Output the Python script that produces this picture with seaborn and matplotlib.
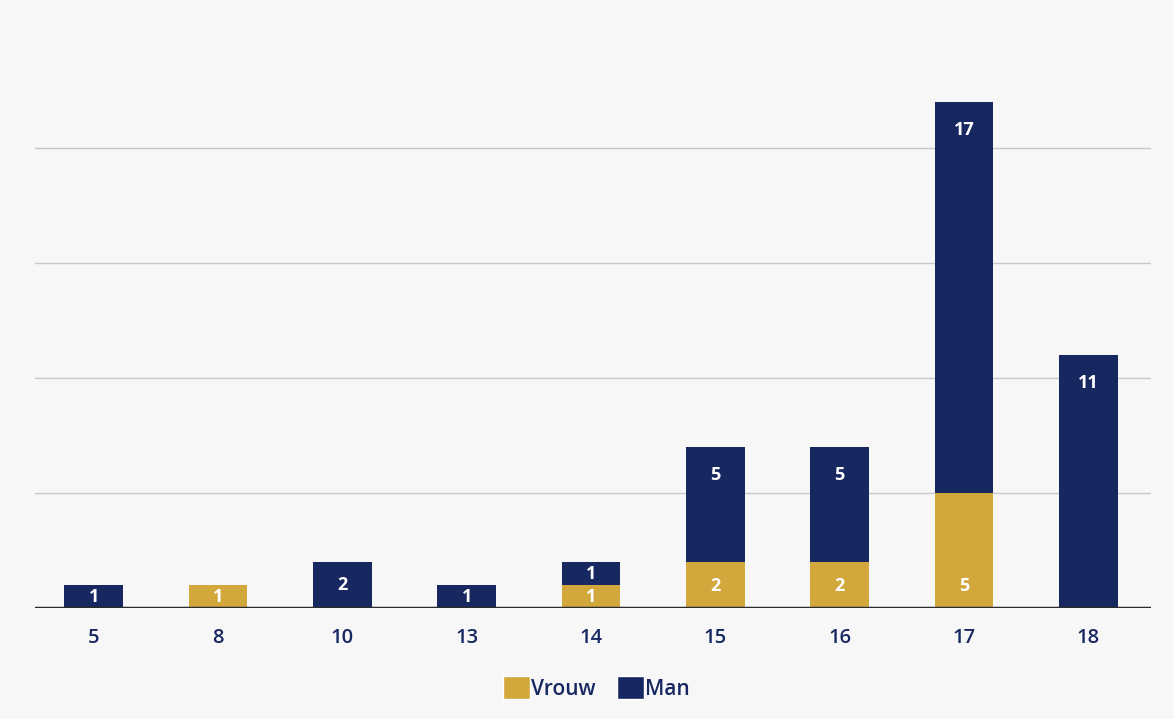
import seaborn as sns
import matplotlib.pyplot as plt
from matplotlib.patches import Patch

# leeftijd (categories) and counts per gender
ages = ['5', '8', '10', '13', '14', '15', '16', '17', '18']
vrouw = [0, 1, 0, 0, 1, 2, 2, 5, 0]
man = [1, 0, 2, 1, 1, 5, 5, 17, 11]
totals = [v + m for v, m in zip(vrouw, man)]

gold = '#D2A73C'
navy = '#172861'

sns.set_theme(style='white')
plt.rcParams['font.family'] = ['Open Sans', 'DejaVu Sans']

fig = plt.figure(figsize=(11.74, 7.19), dpi=100, facecolor='#f7f7f8')
ax = fig.add_axes([0.030, 0.154, 0.950, 0.800])
ax.set_facecolor('#f7f7f8')

# stack by drawing totals first, then the bottom segment over it
sns.barplot(x=ages, y=totals, color=navy, width=0.47, saturation=1, linewidth=0, ax=ax, zorder=3)
sns.barplot(x=ages, y=vrouw, color=gold, width=0.47, saturation=1, linewidth=0, ax=ax, zorder=4)

for i, (v, m) in enumerate(zip(vrouw, man)):
    if v > 0:
        ax.text(i, min(0.95, v / 2), str(v), ha='center', va='center',
                color='white', fontsize=13, fontweight='bold', zorder=5)
    if m > 0:
        top = v + m
        y = max(top - 1.2, v + m / 2)
        ax.text(i, y, str(m), ha='center', va='center',
                color='white', fontsize=13, fontweight='bold', zorder=5)

ax.set_xlim(-0.47, 8.5)
ax.set_ylim(0, 25)
ax.set_yticks([5, 10, 15, 20])
ax.yaxis.grid(True, color='#c8c8cc', lw=1)
ax.set_yticklabels([])
ax.tick_params(axis='y', length=0)
ax.tick_params(axis='x', length=0, pad=14, labelsize=14.5, labelcolor=navy)
for lab in ax.get_xticklabels():
    lab.set_fontweight('semibold')
ax.axhline(0, color='#2b2b2b', lw=2.5, zorder=6)
for s in ax.spines.values():
    s.set_visible(False)
ax.set_xlabel('')
ax.set_ylabel('')

handles = [Patch(facecolor=gold, label='Vrouw'), Patch(facecolor=navy, label='Man')]
leg = fig.legend(handles=handles, loc='center', bbox_to_anchor=(0.508, 0.043), ncol=2,
                 frameon=False, handlelength=1.3, handleheight=1.3, handletextpad=0.05,
                 columnspacing=1.0, fontsize=15)
for t in leg.get_texts():
    t.set_color(navy)
    t.set_fontweight('semibold')

fig.savefig('out.png', dpi=100, facecolor=fig.get_facecolor())
